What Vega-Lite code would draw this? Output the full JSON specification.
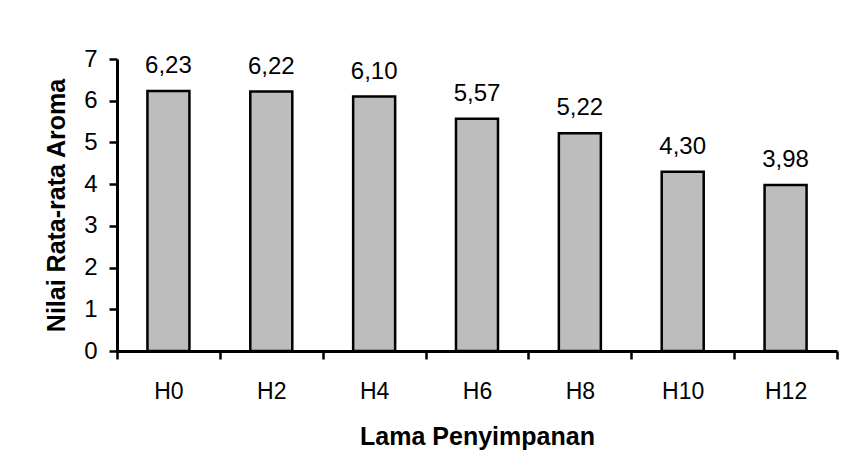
{
  "$schema": "https://vega.github.io/schema/vega-lite/v6.json",
  "width": 720,
  "height": 292,
  "autosize": {"type": "none"},
  "padding": {"left": 117, "top": 59, "right": 11, "bottom": 125},
  "background": "white",
  "config": {
    "locale": {"number": {"decimal": ",", "thousands": ".", "grouping": [3], "currency": ["", ""]}},
    "view": {"stroke": null},
    "font": "Liberation Sans",
    "axis": {
      "grid": false,
      "domainColor": "black",
      "tickColor": "black",
      "labelColor": "black",
      "titleColor": "black",
      "labelFont": "Liberation Sans",
      "titleFont": "Liberation Sans",
      "zindex": 1
    }
  },
  "data": {
    "values": [
      {"hari": "H0", "nilai": 6.23},
      {"hari": "H2", "nilai": 6.22},
      {"hari": "H4", "nilai": 6.10},
      {"hari": "H6", "nilai": 5.57},
      {"hari": "H8", "nilai": 5.22},
      {"hari": "H10", "nilai": 4.30},
      {"hari": "H12", "nilai": 3.98}
    ]
  },
  "encoding": {
    "x": {
      "field": "hari",
      "type": "nominal",
      "sort": null,
      "scale": {"paddingInner": 0, "paddingOuter": 0},
      "axis": {
        "labelAngle": 0,
        "labelFontSize": 23,
        "labelPadding": 21,
        "tickSize": 8,
        "tickWidth": 2.5,
        "tickBand": "extent",
        "domainWidth": 3,
        "title": "Lama Penyimpanan",
        "titleFontSize": 25,
        "titleFontWeight": "bold",
        "titlePadding": 21
      }
    },
    "y": {
      "field": "nilai",
      "type": "quantitative",
      "scale": {"domain": [0, 7], "nice": false},
      "axis": {
        "values": [0, 1, 2, 3, 4, 5, 6, 7],
        "format": "d",
        "labelFontSize": 24,
        "labelPadding": 12,
        "tickSize": 8,
        "tickWidth": 2.5,
        "domainWidth": 3,
        "title": "Nilai Rata-rata Aroma",
        "titleFontSize": 25,
        "titleFontWeight": "bold",
        "titlePadding": 14
      }
    }
  },
  "layer": [
    {
      "mark": {"type": "bar", "width": 42, "fill": "#bdbdbd", "stroke": "black", "strokeWidth": 2.5},
      "encoding": {}
    },
    {
      "mark": {"type": "text", "baseline": "alphabetic", "dy": -18, "fontSize": 24, "color": "black"},
      "encoding": {"text": {"field": "nilai", "type": "quantitative", "format": ".2f"}}
    }
  ]
}
